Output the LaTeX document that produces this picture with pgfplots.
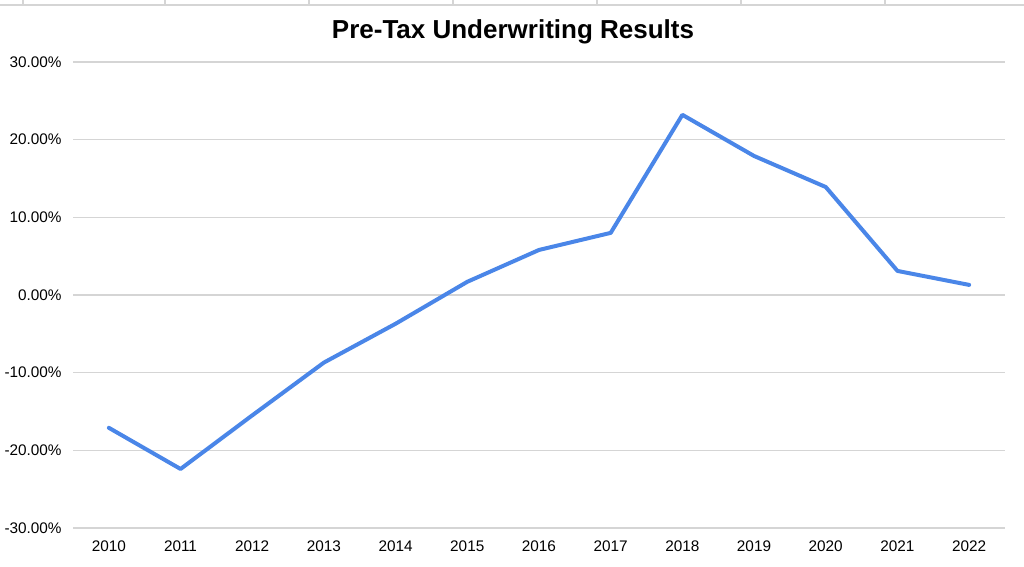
\documentclass[border=0pt]{standalone}
\usepackage{pgfplots}
\pgfplotsset{compat=1.18}
\usepackage{fontspec}
\setmainfont{Liberation Sans}
\definecolor{lineblue}{HTML}{4A86E8}
\definecolor{gridgray}{HTML}{D5D5D5}
\begin{document}
\begin{tikzpicture}
\useasboundingbox (0pt,0pt) rectangle (768pt,425.25pt);
% spreadsheet border artifacts at top
\draw[gridgray,line width=0.8pt] (0pt,421.5pt) -- (768pt,421.5pt);
\foreach \xx in {23,165,309,453,597,741,885} {\draw[gridgray,line width=0.8pt] (\xx*0.75pt,425.25pt) -- (\xx*0.75pt,421.5pt);}
\node[font=\fontsize{19.5}{22}\selectfont\bfseries] at (384.75pt,401.5pt) {Pre-Tax Underwriting Results};
\begin{axis}[
  at={(54.75pt,29.25pt)}, anchor=south west,
  scale only axis, width=699pt, height=349.5pt,
  xmin=2009.5, xmax=2022.5, ymin=-30, ymax=30,
  xtick={2010,...,2022},
  xticklabels={2010,2011,2012,2013,2014,2015,2016,2017,2018,2019,2020,2021,2022},
  ytick={-30,-20,-10,0,10,20,30},
  yticklabels={-30.00\%,-20.00\%,-10.00\%,0.00\%,10.00\%,20.00\%,30.00\%},
  ymajorgrids, grid style={gridgray,line width=0.8pt},
  axis line style={draw=none},
  major tick length=0pt,
  tick label style={font=\fontsize{11.5}{13}\selectfont},
  /pgf/number format/assume math mode=true,
  yticklabel style={xshift=-5pt},
  xticklabel style={yshift=-6pt},
  clip=false,
]
\addplot[lineblue, line width=3pt, line join=round, line cap=round] coordinates {
(2010,-17.1) (2011,-22.4) (2012,-15.5) (2013,-8.7) (2014,-3.7) (2015,1.7)
(2016,5.8) (2017,8.0) (2018,23.2) (2019,17.9) (2020,13.9) (2021,3.1) (2022,1.3)
};
\end{axis}
\end{tikzpicture}
\end{document}
